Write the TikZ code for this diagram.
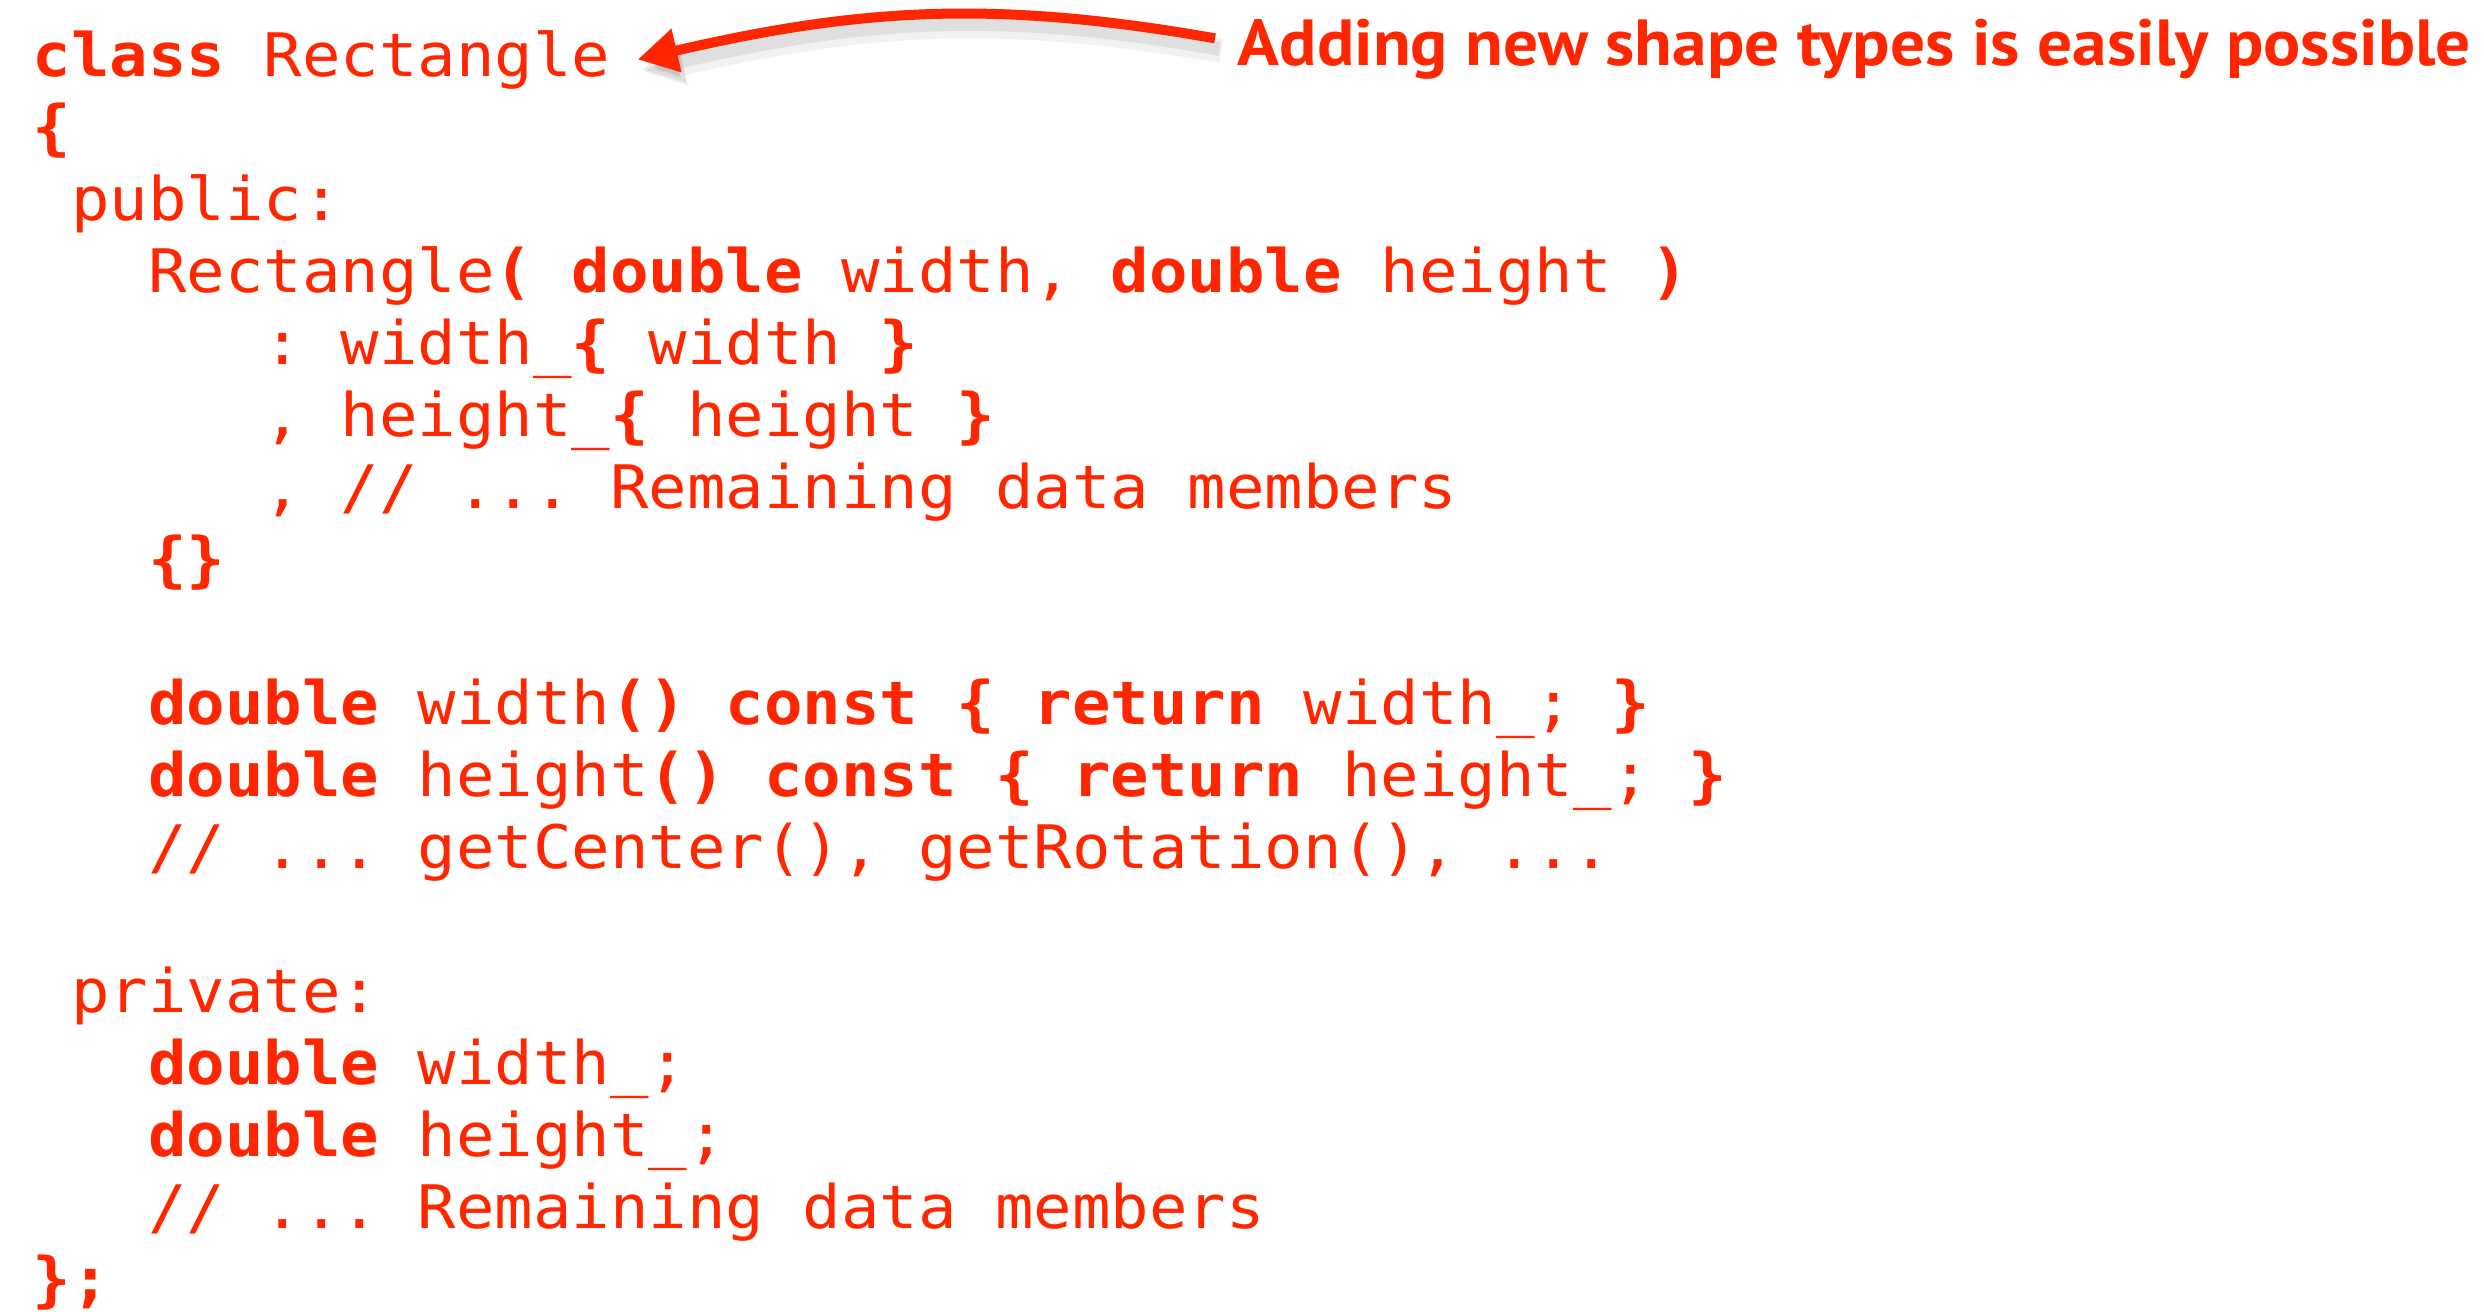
\documentclass[tikz,border=0pt]{standalone}
\usepackage{fontspec}
\usepackage{xcolor}
\usepackage{tikz}
\usetikzlibrary{arrows.meta}
\newfontfamily\codefont{DejaVu Sans Mono}[FakeStretch=1.066]
\newfontfamily\notefont{PT Sans}[FakeStretch=1.063]
\definecolor{cRed}{HTML}{FF2600}
\frenchspacing

\begin{document}
\begin{tikzpicture}[
  x=0.25pt, y=0.25pt,
  code/.style={anchor=base west, inner sep=0pt, text=cRed,
               font=\codefont\fontsize{15pt}{18pt}\selectfont},
  note/.style={anchor=base west, inner xsep=5.5pt, inner ysep=0pt, text=cRed,
               font=\notefont\bfseries\fontsize{16.3pt}{19pt}\selectfont},
  callout/.style={draw=cRed, line width=2.5pt,
                  -{Triangle[length=10pt,width=10.5pt]}},
  blur/.style={preaction={draw=black, opacity=0.05, line width=6pt,
                 transform canvas={shift={(1.6pt,-3.2pt)}}},
               preaction={draw=black, opacity=0.08, line width=3.5pt,
                 transform canvas={shift={(1.2pt,-2.6pt)}}}},
]
  \useasboundingbox (0,0) rectangle (2484,-1311);
  % class head
  \node[code] (c1) at (32,-76) {\textbf{class} Rectangle};
  \node[code] (c2) at (32,-148) {\textbf{\{}};
  % public part
  \node[code] (c3) at (70.5,-220) {public:};
  \node[code] (c4) at (147.5,-292)
    {Rectangle\textbf{( double} width, \textbf{double} height \textbf{)}};
  \node[code] (c5) at (263,-364) {: width\_\textbf{\{} width \textbf{\}}};
  \node[code] (c6) at (263,-436) {, height\_\textbf{\{} height \textbf{\}}};
  \node[code] (c7) at (263,-508) {, // ... Remaining data members};
  \node[code] (c8) at (147.5,-580) {\textbf{\{\}}};
  \node[code] (c10) at (147.5,-724)
    {\textbf{double} width\textbf{() const \{ return} width\_; \textbf{\}}};
  \node[code] (c11) at (147.5,-796)
    {\textbf{double} height\textbf{() const \{ return} height\_; \textbf{\}}};
  \node[code] (c12) at (147.5,-868) {// ... getCenter(), getRotation(), ...};
  % private part
  \node[code] (c14) at (70.5,-1012) {private:};
  \node[code] (c15) at (147.5,-1084) {\textbf{double} width\_;};
  \node[code] (c16) at (147.5,-1156) {\textbf{double} height\_;};
  \node[code] (c17) at (147.5,-1228) {// ... Remaining data members};
  \node[code] (c18) at (32,-1300) {\textbf{\};}};
  % callout
  \node[note] (lbl) at (1215,-65) {Adding new shape types is easily possible};
  \draw[callout, blur]
    ([yshift=2.6pt]lbl.west) to[out=170, in=13] ([xshift=6.6pt]c1.east);
\end{tikzpicture}
\end{document}
